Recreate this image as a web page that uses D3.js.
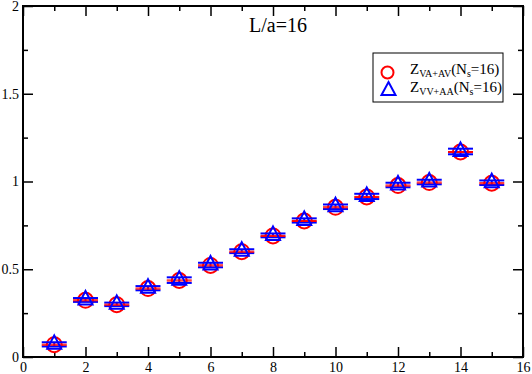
<html>
<head>
  <title>L/a=16</title>
  <script src="https://cdn.jsdelivr.net/npm/d3@7"></script>
  <style>
    body { margin: 0; background: #fff; }
    svg text { font-family: "Liberation Serif", "Times New Roman", Times, "DejaVu Serif", serif; }
  </style>
</head>
<body>
  <script>
    // Storrelse
    const w = 532;
    const h = 374;
    const margin = {left: 23, right: 9, top: 6, bottom: 17};
    const serif = "'Liberation Serif', 'Times New Roman', Times, 'DejaVu Serif', serif";

    // Data aflaest fra figuren
    const xs = [1, 2, 3, 4, 5, 6, 7, 8, 9, 10, 11, 12, 13, 14, 15];
    const zVA = [0.070, 0.323, 0.298, 0.390, 0.436, 0.522, 0.600, 0.690, 0.775, 0.853, 0.912, 0.977, 0.994, 1.168, 0.990];
    const errVA = [0.003, 0.003, 0.003, 0.003, 0.003, 0.003, 0.003, 0.003, 0.003, 0.003, 0.003, 0.003, 0.003, 0.003, 0.003];
    const zVV = [0.072, 0.325, 0.300, 0.392, 0.438, 0.524, 0.603, 0.693, 0.778, 0.856, 0.915, 0.980, 0.997, 1.171, 0.993];
    const errVV = [0.012, 0.011, 0.010, 0.012, 0.016, 0.013, 0.011, 0.011, 0.012, 0.013, 0.015, 0.013, 0.013, 0.016, 0.013];
    const xTicks = [0, 2, 4, 6, 8, 10, 12, 14, 16];
    const xMinor = [1, 3, 5, 7, 9, 11, 13, 15];
    const yTicks = [0, 0.5, 1, 1.5, 2];
    const yMinor = [0.25, 0.75, 1.25, 1.75];

    const xScale = d3.scaleLinear().domain([0, 16]).range([margin.left, w - margin.right]);
    const yScale = d3.scaleLinear().domain([0, 2]).range([h - margin.bottom, margin.top]);

    const svg = d3.select("body").append("svg")
      .attr("width", w).attr("height", h)
      .style("font-family", serif);

    const x0 = margin.left, x1 = w - margin.right;
    const y0 = h - margin.bottom, y1 = margin.top;

    // Akser - ticks peger indad
    function styleAxis(g) {
      g.attr("font-family", null).attr("font-size", null);
      g.select(".domain").remove();
      g.selectAll("line").attr("stroke", "#000").attr("stroke-width", 1.5);
      g.selectAll("text").attr("fill", "#000")
        .style("font-size", "14px").style("font-family", serif);
    }
    const fmt = d => d3.format("")(d);

    svg.append("g").attr("transform", "translate(0," + y0 + ")")
      .call(d3.axisBottom(xScale).tickValues(xTicks).tickFormat(fmt)
        .tickSizeInner(-10).tickSizeOuter(0).tickPadding(5))
      .call(styleAxis);
    svg.append("g").attr("transform", "translate(0," + y0 + ")")
      .call(d3.axisBottom(xScale).tickValues(xMinor).tickFormat("")
        .tickSizeInner(-5).tickSizeOuter(0))
      .call(styleAxis);
    svg.append("g").attr("transform", "translate(0," + y1 + ")")
      .call(d3.axisTop(xScale).tickValues(xTicks).tickFormat("")
        .tickSizeInner(-10).tickSizeOuter(0))
      .call(styleAxis);
    svg.append("g").attr("transform", "translate(0," + y1 + ")")
      .call(d3.axisTop(xScale).tickValues(xMinor).tickFormat("")
        .tickSizeInner(-5).tickSizeOuter(0))
      .call(styleAxis);

    svg.append("g").attr("transform", "translate(" + x0 + ",0)")
      .call(d3.axisLeft(yScale).tickValues(yTicks).tickFormat(fmt)
        .tickSizeInner(-10).tickSizeOuter(0).tickPadding(4))
      .call(styleAxis);
    svg.append("g").attr("transform", "translate(" + x0 + ",0)")
      .call(d3.axisLeft(yScale).tickValues(yMinor).tickFormat("")
        .tickSizeInner(-5).tickSizeOuter(0))
      .call(styleAxis);
    svg.append("g").attr("transform", "translate(" + x1 + ",0)")
      .call(d3.axisRight(yScale).tickValues(yTicks).tickFormat("")
        .tickSizeInner(-10).tickSizeOuter(0))
      .call(styleAxis);
    svg.append("g").attr("transform", "translate(" + x1 + ",0)")
      .call(d3.axisRight(yScale).tickValues(yMinor).tickFormat("")
        .tickSizeInner(-5).tickSizeOuter(0))
      .call(styleAxis);

    // Ramme
    svg.append("rect")
      .attr("x", x0).attr("y", y1)
      .attr("width", x1 - x0).attr("height", y0 - y1)
      .attr("fill", "none").attr("stroke", "#000").attr("stroke-width", 2);

    // Titel
    svg.append("text").attr("x", 249).attr("y", 32)
      .style("font-size", "20px").style("font-family", serif).text("L/a=16");

    const capW = 12.5;
    const trianglePath = "M0,-9 L7,4.5 L-7,4.5 Z";

    function errorBars(vals, errs, color, sw) {
      const g = svg.append("g").attr("stroke", color).attr("stroke-width", sw);
      xs.forEach(function (x, i) {
        const cx = xScale(x);
        const top = yScale(vals[i] + errs[i]);
        const bot = yScale(vals[i] - errs[i]);
        g.append("line").attr("x1", cx).attr("x2", cx).attr("y1", top).attr("y2", bot);
        g.append("line").attr("x1", cx - capW).attr("x2", cx + capW).attr("y1", top).attr("y2", top);
        g.append("line").attr("x1", cx - capW).attr("x2", cx + capW).attr("y1", bot).attr("y2", bot);
      });
    }

    // Cirkler
    svg.selectAll("circle.va")
      .data(zVA)
      .enter()
      .append("circle")
      .attr("class", "va")
      .attr("cx", (d, i) => xScale(xs[i]))
      .attr("cy", d => yScale(d))
      .attr("r", 7.5)
      .attr("fill", "none").attr("stroke", "#ff0000").attr("stroke-width", 2);

    errorBars(zVV, errVV, "#0000ff", 2);
    errorBars(zVA, errVA, "#ff0000", 1);

    // Trekanter
    svg.selectAll("path.vv")
      .data(zVV)
      .enter()
      .append("path")
      .attr("class", "vv")
      .attr("d", trianglePath)
      .attr("transform", (d, i) => "translate(" + xScale(xs[i]) + "," + yScale(d) + ")")
      .attr("fill", "none").attr("stroke", "#0000ff").attr("stroke-width", 2);

    // Legend
    const lg = svg.append("g");
    lg.append("rect").attr("x", 373).attr("y", 53).attr("width", 130).attr("height", 49)
      .attr("fill", "#fff").attr("stroke", "#000").attr("stroke-width", 1);
    lg.append("circle").attr("cx", 387.5).attr("cy", 72.5).attr("r", 6)
      .attr("fill", "none").attr("stroke", "#ff0000").attr("stroke-width", 2);
    lg.append("path").attr("d", "M0,-6.5 L7,6.5 L-7,6.5 Z")
      .attr("transform", "translate(388.5,88.5)")
      .attr("fill", "none").attr("stroke", "#0000ff").attr("stroke-width", 2);

    const labels = [["VA+AV", 73.5], ["VV+AA", 91.5]];
    labels.forEach(function (l) {
      const t = lg.append("text").attr("x", 410).attr("y", l[1])
        .style("font-size", "15px").style("font-family", serif);
      t.append("tspan").text("Z");
      t.append("tspan").attr("dy", 3.5).style("font-size", "10px").text(l[0]);
      t.append("tspan").attr("dy", -3.5).text("(N");
      t.append("tspan").attr("dy", 3.5).style("font-size", "10px").text("s");
      t.append("tspan").attr("dy", -3.5).text("=16)");
    });
  </script>
</body>
</html>
